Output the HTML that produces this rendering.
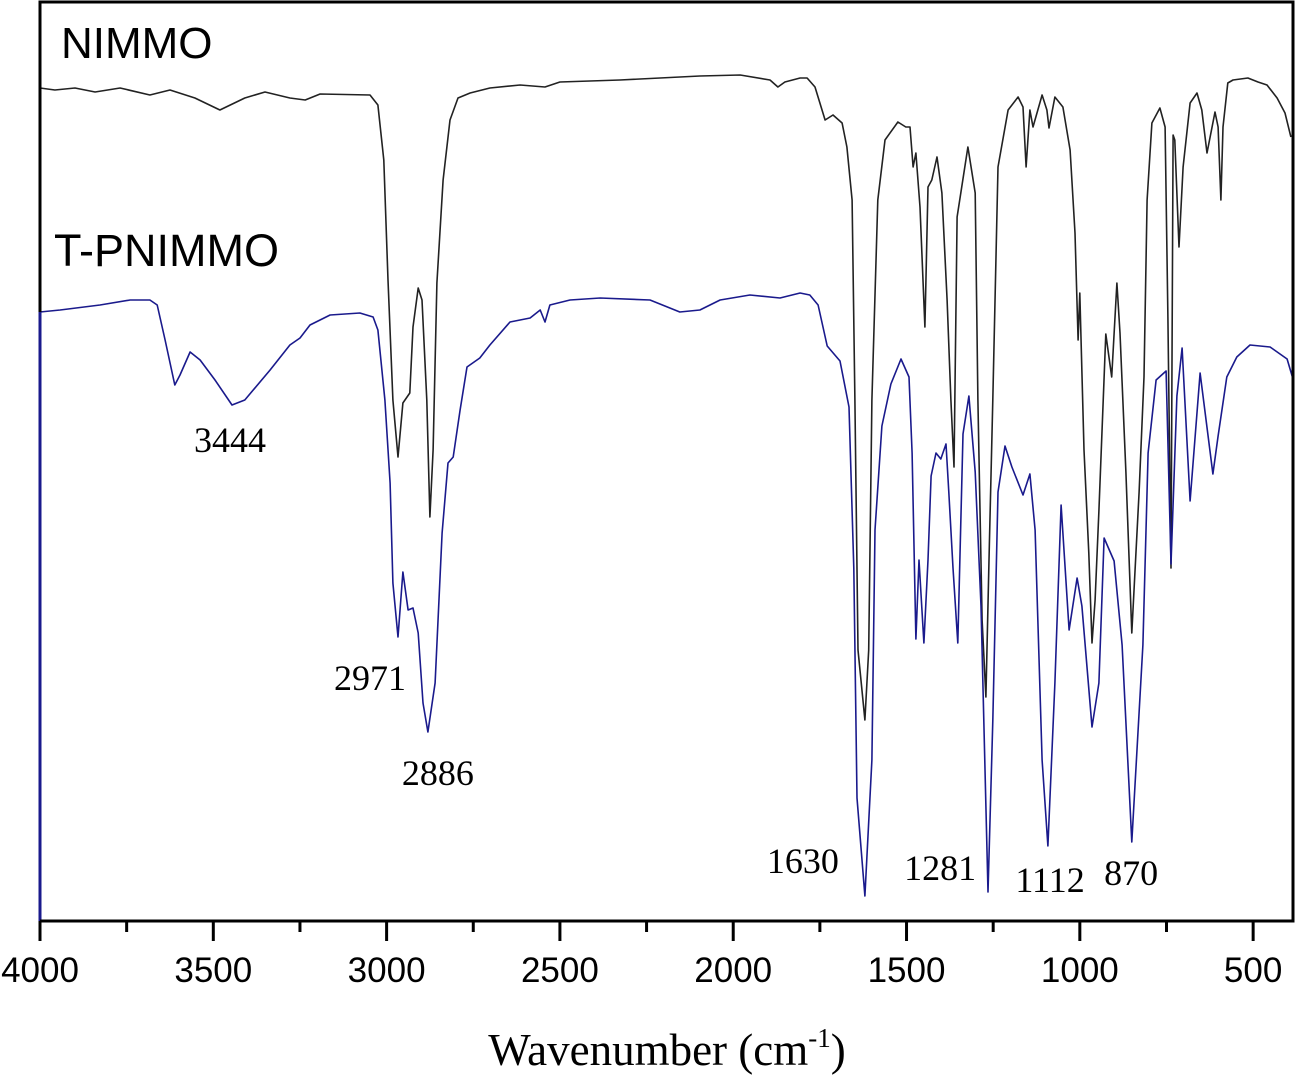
<!DOCTYPE html>
<html><head><meta charset="utf-8"><style>
html,body{margin:0;padding:0;background:#fff;}
svg{display:block;}
</style></head><body>
<svg id="chart" width="1296" height="1075" xmlns="http://www.w3.org/2000/svg">
<g id="marks"></g>
<g id="axes"></g>
<text x="61" y="58" font-family="Liberation Sans, sans-serif" font-size="44">NIMMO</text>
<text x="54" y="266" font-family="Liberation Sans, sans-serif" font-size="45">T-PNIMMO</text>
<text x="667" y="1065" text-anchor="middle" font-family="Liberation Serif, serif" font-size="45">Wavenumber (cm<tspan dy="-18" font-size="27">-1</tspan><tspan dy="18">)</tspan></text>
</svg>
<script>
const nimmoWn=[4000,3957,3899,3841,3769,3683,3625,3553,3481,3409,3351,3279,3235,3192,3048,3025,3008,2996,2982,2967,2953,2933,2924,2909,2898,2884,2875,2866,2855,2837,2817,2794,2759,2702,2615,2543,2500,2327,2096,1980,1894,1871,1851,1807,1787,1764,1735,1712,1686,1672,1657,1649,1640,1620,1609,1600,1583,1562,1525,1502,1490,1481,1473,1461,1447,1438,1427,1412,1398,1383,1372,1363,1354,1323,1302,1294,1282,1271,1262,1251,1236,1207,1178,1164,1155,1144,1135,1109,1095,1089,1072,1049,1028,1014,1005,1000,988,974,965,956,945,925,908,893,884,867,850,829,815,806,792,769,754,746,737,731,726,714,702,682,662,648,633,610,601,593,587,573,558,515,486,460,431,408,391];
const nimmoT=[83.3,83.1,83.3,82.9,83.3,82.6,83.1,82.3,81.1,82.3,82.9,82.3,82.1,82.7,82.6,81.6,76.1,64.1,52.1,46.4,51.8,52.8,59.4,63.3,62.1,52.1,40.4,47.1,63.8,74.1,80.1,82.3,82.8,83.3,83.6,83.4,83.9,84.1,84.5,84.6,84.1,83.4,83.9,84.3,84.3,83.4,80.1,80.6,79.8,77.4,72.1,52.1,27.1,20.1,27.1,52.1,72.1,78.1,79.9,79.4,79.4,75.4,76.8,71.4,59.4,73.4,74.1,76.4,72.8,62.1,52.1,45.4,70.4,77.4,72.8,52.1,30.1,22.4,36.1,52.1,75.4,81.1,82.4,81.4,75.4,81.1,79.4,82.6,81.1,79.3,82.4,81.4,77.1,68.8,58.1,62.8,47.1,36.8,27.8,32.1,41.0,58.7,54.4,63.8,58.8,44.9,28.8,42.9,54.4,72.1,79.8,81.3,79.4,60.4,35.3,78.6,78.1,67.4,75.4,81.8,82.8,81.1,76.8,80.9,79.4,72.1,79.4,83.8,84.1,84.3,83.9,83.6,82.3,80.8,78.4];
const pnWn=[4000,3942,3827,3740,3683,3662,3639,3611,3596,3567,3538,3495,3446,3409,3336,3279,3250,3221,3163,3077,3039,3025,3005,2990,2982,2967,2953,2938,2924,2909,2895,2881,2860,2840,2823,2808,2788,2768,2731,2702,2644,2586,2557,2543,2529,2471,2384,2240,2154,2096,2038,1952,1865,1807,1779,1755,1729,1692,1666,1652,1643,1620,1600,1591,1571,1545,1516,1493,1484,1473,1464,1450,1438,1429,1415,1401,1386,1378,1366,1352,1337,1320,1302,1285,1265,1251,1236,1216,1196,1164,1144,1129,1109,1092,1072,1054,1031,1008,994,965,945,930,901,878,850,818,803,780,751,737,720,705,682,653,616,601,576,547,509,451,402,385];
const pnT=[60.9,61.1,61.6,62.1,62.1,61.6,58.1,53.6,54.6,56.9,56.1,54.1,51.6,52.1,55.1,57.6,58.3,59.6,60.6,60.8,60.4,59.1,52.1,43.8,33.8,28.4,34.9,31.1,31.3,28.8,21.8,18.9,23.8,38.8,45.8,46.4,51.1,55.4,56.3,57.6,59.9,60.3,61.1,59.9,61.6,62.1,62.3,62.1,60.9,61.1,62.1,62.6,62.3,62.8,62.6,61.6,57.5,56.0,51.4,35.3,12.3,2.5,16.1,39.1,49.5,53.7,56.2,54.4,46.8,28.2,36.1,27.8,36.1,44.5,46.8,46.2,47.7,42.9,35.3,27.8,48.7,52.5,44.9,31.5,2.9,20.0,42.9,47.5,45.4,42.6,44.7,39.1,16.1,7.5,23.8,41.6,29.1,34.3,31.5,19.4,23.8,38.3,36.0,27.6,7.9,27.6,46.8,54.1,55.0,35.7,52.5,57.3,42.0,54.8,44.7,48.5,54.4,56.4,57.6,57.4,56.2,54.2];
const tickVals=[4000,3500,3000,2500,2000,1500,1000,500];
const minorVals=[3750,3250,2750,2250,1750,1250,750];
const peakLabels=["3444","2971","2886","1630","1281","1112","870"];
const labelWn=[3452,3048,2852,1799,1403,1086,852];
const labelT=[46.9,23.1,13.6,4.8,4.1,2.9,3.6];

const L=40,R=1293,T=2,B=921;
const xS=w=>L+(4000-w)*(R-L)/(4000-385);
const yS=v=>B-v*10;
const NS='http://www.w3.org/2000/svg';
const marks=document.getElementById('marks'),axes=document.getElementById('axes');
function mk(tag,attrs,parent){const e=document.createElementNS(NS,tag);for(const k in attrs)e.setAttribute(k,attrs[k]);parent.appendChild(e);return e;}
function line(wn,t,color,name){
  let d='';for(let i=0;i<wn.length;i++)d+=(i?'L':'M')+xS(wn[i]).toFixed(1)+','+yS(t[i]).toFixed(1);
  const p=mk('path',{d:d,fill:'none',stroke:color,'stroke-width':1.6,'stroke-linejoin':'round'},marks);
  
  
}
line(nimmoWn,nimmoT,'#222','nimmo-spectrum');
line(pnWn,pnT,'#1a1a8c','t-pnimmo-spectrum');
const blueEdge=mk('line',{x1:L,y1:yS(pnT[0]),x2:L,y2:B,stroke:'#1a1a8c','stroke-width':3},marks);


const frame=mk('path',{d:`M${L},${yS(pnT[0])}L${L},${T}L${R},${T}L${R},${B}L${L},${B}`,fill:'none',stroke:'#000','stroke-width':3},axes);


tickVals.forEach(v=>{
  const x=xS(v);
  const t=mk('line',{x1:x,y1:B,x2:x,y2:B+20,stroke:'#000','stroke-width':3},axes);
  
  
  const lb=mk('text',{x:x,y:982,'text-anchor':'middle','font-family':'Liberation Sans, sans-serif','font-size':35},axes);
  lb.textContent=v;
  
  
});
minorVals.forEach(v=>{
  const x=xS(v);
  const t=mk('line',{x1:x,y1:B,x2:x,y2:B+11,stroke:'#000','stroke-width':3},axes);
  
  
});
peakLabels.forEach((s,i)=>{
  const tx=mk('text',{x:xS(labelWn[i]),y:yS(labelT[i]),'text-anchor':'middle','font-family':'Liberation Serif, serif','font-size':36},axes);
  tx.textContent=s;
  
  
});
</script>
</body></html>
